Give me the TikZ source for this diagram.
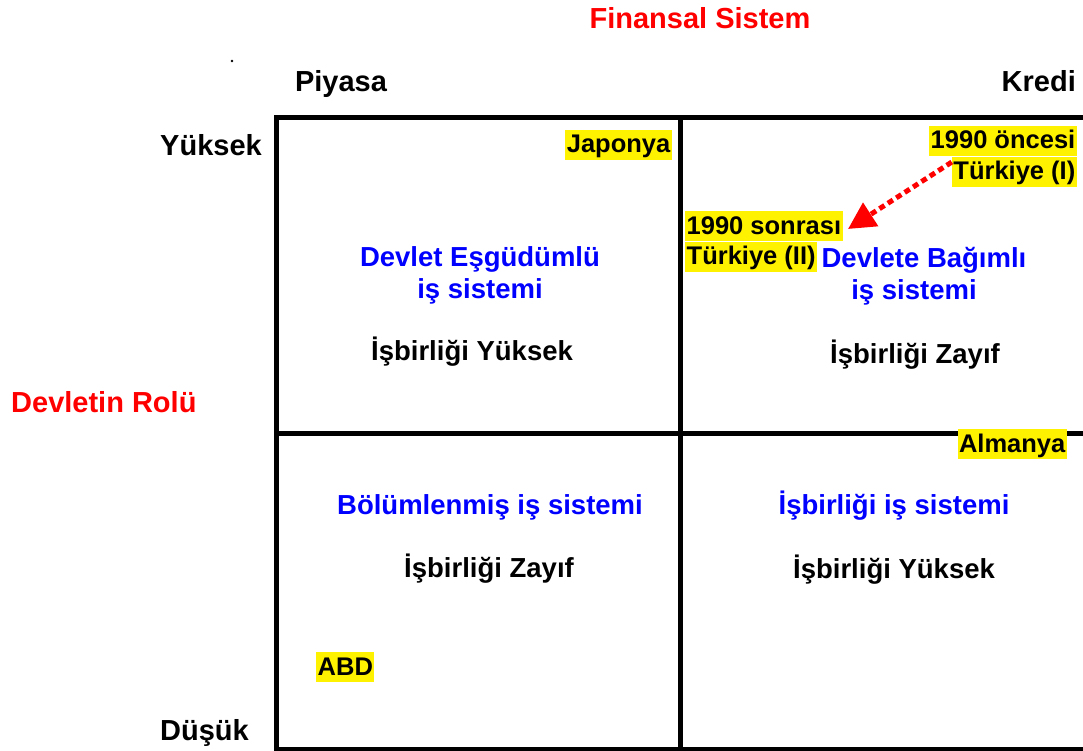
\documentclass[tikz,border=0pt]{standalone}
\usepackage{fontspec}
\setmainfont{Liberation Sans}
\usetikzlibrary{arrows.meta}

\begin{document}
\begin{tikzpicture}
[
    x=1pt, y=-1pt,
    axis label/.style={font=\fontsize{29}{33}\selectfont\bfseries, inner sep=0pt},
    red label/.style={axis label, text=red},
    cell label/.style={font=\fontsize{27.5}{31}\selectfont\bfseries, inner sep=0pt, anchor=base},
    system label/.style={cell label, text=blue},
    country/.style={font=\fontsize{25.5}{29}\selectfont\bfseries, fill=yellow, inner xsep=1.5pt, inner ysep=0pt, text height=23pt, text depth=7pt},
    frame line/.style={line width=5pt},
    shift arrow/.style={red, line width=5pt, dash pattern=on 6pt off 4pt, -{Triangle[length=27pt, width=27pt]}}
]
    \useasboundingbox (0,0) rectangle (1083,751);

    \begin{scope}
        \clip (0,0) rectangle (1083,751);
        \draw [frame line] (276,118) rectangle (1110,749);
        \draw [frame line] (680.5,118) -- (680.5,749);
        \draw [frame line] (276,433) -- (1110,433);
    \end{scope}

    \fill (232,61) circle (1.3pt);

    \node [red label, anchor=base] (finansal) at (700,29) {Finansal Sistem};
    \node [axis label, anchor=base] (piyasa) at (341,92) {Piyasa};
    \node [axis label, anchor=base east] (kredi) at (1076,92) {Kredi};
    \node [axis label, anchor=base east] (yuksek) at (262,156) {Yüksek};
    \node [red label, anchor=base west] (rol) at (11,412) {Devletin Rolü};
    \node [axis label, anchor=base west] (dusuk) at (160,740) {Düşük};

    \node [system label] (esgudum) at (480,266) {Devlet Eşgüdümlü};
    \node [system label] (esgudumis) at (480,298) {iş sistemi};
    \node [cell label] (esgudumcoop) at (472,360) {İşbirliği Yüksek};

    \node [system label] (bagimli) at (924,267) {Devlete Bağımlı};
    \node [system label] (bagimlis) at (914,299) {iş sistemi};
    \node [cell label] (bagimlicoop) at (915,363) {İşbirliği Zayıf};

    \node [system label] (bolum) at (490,514) {Bölümlenmiş iş sistemi};
    \node [cell label] (bolumcoop) at (489,577) {İşbirliği Zayıf};

    \node [system label] (isbirligi) at (894,514) {İşbirliği iş sistemi};
    \node [cell label] (isbirligicoop) at (894,578) {İşbirliği Yüksek};

    \node [country, anchor=base east] (japonya) at (672,153) {Japonya};
    \node [country, anchor=base east] (oncesi) at (1077,149) {1990 öncesi};
    \node [country, anchor=base east] (turkone) at (1077,180) {Türkiye (I)};
    \node [country, anchor=base west] (sonrasi) at (685,234) {1990 sonrası};
    \node [country, anchor=base west] (turktwo) at (685,265) {Türkiye (II)};
    \node [country, anchor=base east] (almanya) at (1067,452) {Almanya};
    \node [country, anchor=base west] (abd) at (316,675) {ABD};

    \coordinate (tip) at (848,229);
    \draw [shift arrow] (turkone.171) -- (tip);
\end{tikzpicture}
\end{document}
